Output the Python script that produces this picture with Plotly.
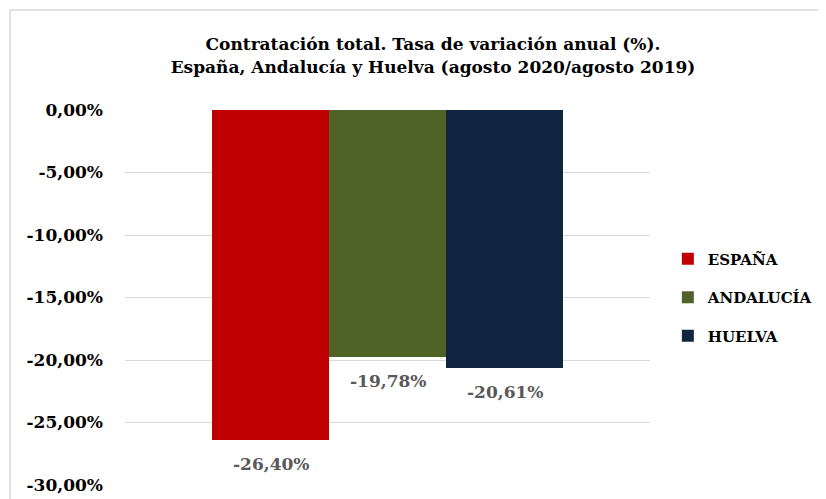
import plotly.graph_objects as go

# Chart data
regions = ["ESPAÑA", "ANDALUCÍA", "HUELVA"]
variation_pct = [-26.40, -19.78, -20.61]
bar_colors = ["#c00000", "#4f6228", "#10253f"]
tick_values = [0, -5, -10, -15, -20, -25, -30]
tick_labels = ["0,00%", "-5,00%", "-10,00%", "-15,00%", "-20,00%", "-25,00%", "-30,00%"]

fig = go.Figure()

for name, val, color in zip(regions, variation_pct, bar_colors):
    fig.add_trace(go.Bar(
        x=[name],
        y=[val],
        name=name,
        legendgroup=name,
        marker_color=color,
        marker_line_width=0,
        width=1,
    ))
    # value label under the bar end
    fig.add_annotation(
        x=name, y=val,
        text=f"{val:.2f}%".replace(".", ","),
        showarrow=False,
        yanchor="middle",
        yshift=-24,
        font=dict(family="DejaVu Serif", size=17, color="#595959", weight="bold"),
    )

# frame edges (left + top only) in paper coords
frame_left = (2 - 117) / 525
frame_top = (477 - 2) / 375

# page body has an 8px default margin, so offsets below account for it
fig.update_layout(
    title=dict(
        text="<b>Contratación total. Tasa de variación anual (%).<br>España, Andalucía y Huelva (agosto 2020/agosto 2019)</b>",
        x=425 / 826,
        xanchor="center",
        y=0.915,
        yanchor="middle",
        font=dict(family="DejaVu Serif", size=17, color="#000000"),
    ),
    barmode="overlay",
    bargap=0,
    width=826,
    height=499,
    margin=dict(l=117, r=184, t=102, b=22),
    plot_bgcolor="white",
    paper_bgcolor="white",
    showlegend=True,
    legend=dict(
        x=1.034,
        y=0.5,
        xanchor="left",
        yanchor="middle",
        font=dict(family="DejaVu Serif", size=15, color="#000000", weight="bold"),
        tracegroupgap=16,
        itemwidth=30,
    ),
    xaxis=dict(
        range=[-1.244, 3.243],
        showticklabels=False, showgrid=False, zeroline=False, showline=False,
        automargin=False,
    ),
    yaxis=dict(
        range=[-30, 0],
        tickvals=tick_values,
        ticktext=tick_labels,
        showgrid=True,
        gridcolor="#d9d9d9",
        gridwidth=1,
        zeroline=False,
        showline=False,
        ticks="",
        ticklabelstandoff=21,
        automargin=False,
        tickfont=dict(family="DejaVu Serif", size=17, color="#000000", weight="bold"),
    ),
    shapes=[
        dict(type="path", xref="paper", yref="paper",
             path=f"M {frame_left},-0.2 L {frame_left},{frame_top} L 1.33,{frame_top}",
             line=dict(color="#d9d9d9", width=1.5), layer="below"),
    ],
)

# hide scrollbars caused by the body margin overflow
fig.write_html("out.html", post_script="document.documentElement.style.overflow='hidden';")
